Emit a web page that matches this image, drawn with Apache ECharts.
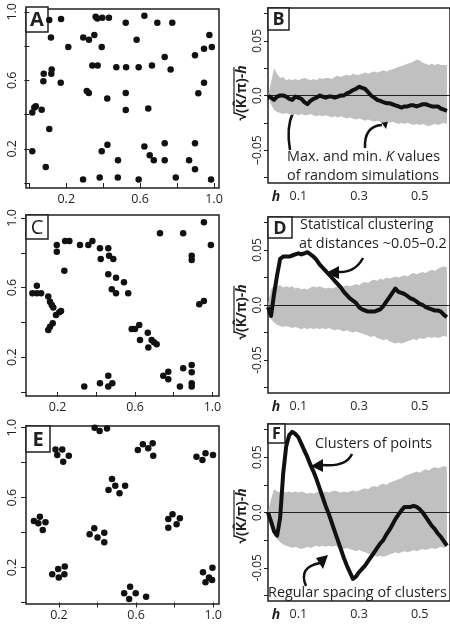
<!DOCTYPE html>
<html>
<head>
<meta charset="utf-8">
<script src="https://cdn.jsdelivr.net/npm/echarts@6/dist/echarts.min.js"></script>
</head>
<body style="margin:0;background:#fff">
<div id="container" style="width:450px;height:625px"></div>
<script>
// point patterns (x, y) in the unit square
var pointsA = [[0.108,0.952],[0.172,0.958],[0.117,0.850],[0.211,0.794],[0.292,0.850],[0.323,0.836],[0.352,0.865],[0.359,0.971],[0.368,0.961],[0.395,0.965],[0.431,0.965],[0.392,0.794],[0.522,0.936],[0.581,0.836],[0.623,0.977],[0.693,0.936],[0.774,0.936],[0.975,0.865],[0.988,0.794],[0.946,0.784],[0.897,0.746],[0.733,0.736],[0.765,0.663],[0.664,0.686],[0.592,0.676],[0.524,0.676],[0.471,0.676],[0.370,0.686],[0.341,0.686],[0.121,0.663],[0.119,0.638],[0.078,0.638],[0.076,0.595],[0.170,0.586],[0.311,0.538],[0.322,0.526],[0.422,0.493],[0.522,0.526],[0.522,0.426],[0.644,0.435],[0.915,0.524],[0.946,0.586],[0.016,0.412],[0.027,0.441],[0.035,0.449],[0.067,0.428],[0.108,0.316],[0.016,0.185],[0.089,0.094],[0.291,0.021],[0.381,0.033],[0.479,0.033],[0.592,0.021],[0.793,0.033],[0.984,0.021],[0.392,0.185],[0.423,0.224],[0.480,0.133],[0.623,0.214],[0.652,0.162],[0.674,0.133],[0.733,0.233],[0.733,0.133],[0.865,0.133],[0.897,0.233],[0.897,0.081]];

var pointsC = [[0.070,0.567],[0.093,0.567],[0.115,0.567],[0.093,0.611],[0.152,0.548],[0.161,0.519],[0.170,0.500],[0.178,0.485],[0.192,0.443],[0.209,0.458],[0.218,0.466],[0.152,0.356],[0.161,0.375],[0.175,0.395],[0.196,0.845],[0.196,0.806],[0.239,0.868],[0.261,0.868],[0.235,0.697],[0.316,0.845],[0.359,0.845],[0.380,0.868],[0.419,0.826],[0.462,0.826],[0.423,0.764],[0.466,0.783],[0.488,0.764],[0.462,0.676],[0.502,0.657],[0.543,0.630],[0.480,0.590],[0.502,0.567],[0.565,0.567],[0.583,0.362],[0.600,0.362],[0.622,0.385],[0.626,0.299],[0.666,0.341],[0.669,0.255],[0.686,0.299],[0.698,0.286],[0.712,0.274],[0.729,0.912],[0.849,0.912],[0.956,0.975],[0.992,0.845],[0.893,0.783],[0.893,0.759],[0.932,0.504],[0.956,0.523],[0.746,0.094],[0.772,0.117],[0.772,0.073],[0.849,0.136],[0.893,0.155],[0.893,0.113],[0.893,0.050],[0.893,0.031],[0.832,0.031],[0.338,0.031],[0.419,0.050],[0.462,0.094],[0.462,0.031],[0.483,0.050]];

var pointsE = [[0.385,1.000],[0.411,0.981],[0.449,0.995],
  [0.182,0.876],[0.217,0.876],[0.191,0.844],[0.251,0.840],[0.222,0.806],
  [0.609,0.872],[0.635,0.905],[0.663,0.882],[0.686,0.911],[0.689,0.840],
  [0.913,0.834],[0.944,0.815],[0.960,0.854],[0.999,0.844],
  [0.475,0.707],[0.457,0.644],[0.492,0.668],[0.514,0.625],[0.543,0.668],
  [0.070,0.466],[0.101,0.491],[0.093,0.453],[0.130,0.459],[0.116,0.415],
  [0.359,0.390],[0.383,0.424],[0.400,0.371],[0.435,0.399],[0.435,0.344],
  [0.767,0.478],[0.789,0.505],[0.767,0.428],[0.810,0.447],[0.827,0.482],
  [0.165,0.161],[0.196,0.192],[0.199,0.142],[0.230,0.205],[0.228,0.161],
  [0.538,0.053],[0.569,0.090],[0.564,0.020],[0.598,0.053],[0.652,0.033],
  [0.947,0.173],[0.996,0.199],[0.978,0.142],[0.960,0.116],[0.994,0.129]];

// distance h and the L-function curves
var hValues = [0,0.01,0.02,0.03,0.04,0.05,0.06,0.07,0.08,0.09,0.10,0.11,0.12,0.13,0.14,0.15,0.16,0.17,0.18,0.19,0.20,0.21,0.22,0.23,0.24,0.25,0.26,0.27,0.28,0.29,0.30,0.31,0.32,0.33,0.34,0.35,0.36,0.37,0.38,0.39,0.40,0.41,0.42,0.43,0.44,0.45,0.46,0.47,0.48,0.49,0.50,0.51,0.52,0.53,0.54,0.55,0.56,0.57,0.58,0.59];

var lineB = [0.000,-0.002,-0.004,-0.001,0.000,0.000,-0.001,-0.003,-0.004,-0.001,-0.002,-0.003,-0.006,-0.008,-0.005,-0.003,-0.002,0.000,-0.001,-0.002,-0.001,-0.001,-0.002,-0.001,0.000,0.000,0.002,0.003,0.005,0.006,0.008,0.007,0.006,0.003,0.000,-0.002,-0.004,-0.005,-0.006,-0.007,-0.007,-0.008,-0.009,-0.010,-0.011,-0.010,-0.010,-0.009,-0.009,-0.010,-0.009,-0.008,-0.008,-0.009,-0.010,-0.010,-0.010,-0.012,-0.013,-0.014];
var bandBHigh = [0.000,0.012,0.025,0.020,0.016,0.017,0.014,0.015,0.014,0.015,0.014,0.015,0.016,0.015,0.014,0.015,0.014,0.016,0.015,0.016,0.016,0.015,0.017,0.018,0.017,0.018,0.019,0.018,0.020,0.019,0.019,0.020,0.021,0.020,0.021,0.022,0.021,0.022,0.023,0.022,0.023,0.024,0.025,0.026,0.027,0.028,0.029,0.030,0.031,0.033,0.032,0.030,0.029,0.028,0.029,0.028,0.029,0.028,0.028,0.028];
var bandBLow = [0.000,-0.008,-0.013,-0.015,-0.016,-0.017,-0.016,-0.017,-0.018,-0.017,-0.018,-0.017,-0.018,-0.018,-0.017,-0.018,-0.019,-0.018,-0.019,-0.018,-0.019,-0.020,-0.019,-0.020,-0.019,-0.020,-0.021,-0.020,-0.021,-0.022,-0.021,-0.022,-0.023,-0.022,-0.023,-0.024,-0.023,-0.024,-0.025,-0.024,-0.025,-0.024,-0.025,-0.026,-0.025,-0.026,-0.025,-0.026,-0.027,-0.026,-0.027,-0.026,-0.027,-0.028,-0.027,-0.026,-0.027,-0.026,-0.025,-0.026];

var lineD = [-0.002,-0.010,0.010,0.027,0.042,0.044,0.044,0.044,0.045,0.046,0.047,0.046,0.047,0.048,0.046,0.044,0.041,0.037,0.034,0.031,0.028,0.025,0.022,0.019,0.016,0.012,0.009,0.006,0.004,0.002,-0.002,-0.004,-0.005,-0.006,-0.006,-0.006,-0.005,-0.004,-0.001,0.003,0.007,0.011,0.015,0.012,0.011,0.010,0.008,0.006,0.005,0.003,0.001,0.000,-0.002,-0.003,-0.004,-0.005,-0.005,-0.006,-0.009,-0.011];
var bandDHigh = [0.000,0.014,0.018,0.017,0.018,0.016,0.017,0.016,0.017,0.015,0.016,0.014,0.015,0.014,0.016,0.017,0.016,0.017,0.016,0.015,0.016,0.015,0.016,0.017,0.016,0.017,0.018,0.017,0.018,0.019,0.018,0.020,0.021,0.020,0.022,0.023,0.022,0.024,0.023,0.025,0.024,0.025,0.026,0.025,0.026,0.027,0.026,0.028,0.029,0.028,0.029,0.030,0.029,0.031,0.032,0.031,0.033,0.034,0.035,0.034];
var bandDLow = [0.000,-0.013,-0.016,-0.018,-0.019,-0.020,-0.019,-0.020,-0.021,-0.020,-0.021,-0.022,-0.021,-0.022,-0.021,-0.022,-0.021,-0.022,-0.021,-0.022,-0.021,-0.022,-0.023,-0.022,-0.023,-0.024,-0.023,-0.024,-0.025,-0.024,-0.025,-0.026,-0.027,-0.028,-0.029,-0.028,-0.030,-0.031,-0.032,-0.031,-0.033,-0.034,-0.035,-0.034,-0.035,-0.034,-0.033,-0.032,-0.031,-0.032,-0.030,-0.031,-0.030,-0.029,-0.030,-0.029,-0.030,-0.029,-0.028,-0.029];

var lineF = [0.000,-0.008,-0.017,-0.021,-0.005,0.035,0.060,0.070,0.073,0.071,0.068,0.062,0.056,0.050,0.043,0.037,0.030,0.022,0.014,0.006,-0.001,-0.009,-0.017,-0.025,-0.033,-0.041,-0.048,-0.054,-0.060,-0.058,-0.054,-0.051,-0.048,-0.044,-0.040,-0.036,-0.032,-0.028,-0.025,-0.020,-0.016,-0.011,-0.006,-0.002,0.002,0.005,0.005,0.005,0.006,0.005,0.003,0.000,-0.004,-0.008,-0.012,-0.015,-0.019,-0.022,-0.026,-0.030];
var bandFHigh = [0.000,0.012,0.021,0.019,0.018,0.019,0.018,0.019,0.018,0.019,0.018,0.019,0.018,0.017,0.018,0.017,0.018,0.019,0.018,0.019,0.018,0.019,0.020,0.019,0.018,0.019,0.018,0.019,0.020,0.019,0.020,0.021,0.022,0.021,0.023,0.024,0.023,0.025,0.026,0.025,0.027,0.028,0.029,0.030,0.031,0.033,0.034,0.035,0.036,0.037,0.036,0.038,0.039,0.038,0.040,0.041,0.040,0.041,0.042,0.041];
var bandFLow = [0.000,-0.012,-0.020,-0.024,-0.027,-0.029,-0.030,-0.031,-0.032,-0.031,-0.032,-0.033,-0.032,-0.031,-0.032,-0.031,-0.030,-0.031,-0.030,-0.031,-0.030,-0.031,-0.030,-0.031,-0.032,-0.033,-0.032,-0.033,-0.034,-0.035,-0.034,-0.035,-0.036,-0.037,-0.038,-0.039,-0.040,-0.039,-0.040,-0.039,-0.038,-0.037,-0.036,-0.037,-0.036,-0.035,-0.036,-0.035,-0.034,-0.035,-0.034,-0.033,-0.034,-0.033,-0.032,-0.033,-0.032,-0.031,-0.032,-0.031];

// ticks and labels
var unitTicks = [0, 0.2, 0.4, 0.6, 0.8, 1.0];
var unitLabels = [0.2, 0.6, 1.0];
var hTicks = [0, 0.2, 0.4];
var hLabels = [0.1, 0.3, 0.5];
var lTicks = [-0.075, -0.05, -0.025, 0, 0.025, 0.05, 0.075];
var lLabels = [-0.05, 0, 0.05];

var ink = '#231f20';
var font = 'Open Sans';

var dom = document.getElementById('container');
var myChart = echarts.init(dom, null, {renderer: 'canvas'});

var grids = [
    {left: 26, top: 7, width: 193, height: 181},
    {left: 268, top: 8, width: 184.5, height: 175},
    {left: 26, top: 215, width: 193, height: 181},
    {left: 268, top: 217, width: 184.5, height: 176},
    {left: 26, top: 426, width: 193, height: 178},
    {left: 268, top: 424, width: 184.5, height: 177}
];
grids.forEach(function (g) {
    g.show = true;
    g.borderColor = ink;
    g.borderWidth = 1.5;
    g.backgroundColor = 'transparent';
});

// axis ranges of the three point panels [xmin, xmax, ymin, ymax]
var unitRanges = [
    [-0.018, 1.027, -0.029, 1.017],
    [0.037, 1.034, -0.023, 1.017],
    [0.029, 1.030, -0.009, 1.010]
];

function inRange(list, lo, hi) {
    return list.filter(function (v) { return v >= lo - 1e-9 && v <= hi + 1e-9; });
}

function unitAxis(idx, lo, hi, isY) {
    return {
        gridIndex: idx, type: 'value', min: lo, max: hi,
        axisLine: {show: false}, splitLine: {show: false},
        axisTick: {length: 5, lineStyle: {color: ink, width: 1}, customValues: inRange(unitTicks, lo, hi)},
        axisLabel: {
            customValues: inRange(unitLabels, lo, hi),
            formatter: function (v) { return v.toFixed(1); },
            margin: isY ? 7 : 5, rotate: isY ? 90 : 0,
            fontSize: 12.5, fontFamily: font, color: ink
        }
    };
}

function hAxis(idx) {
    return {
        gridIndex: idx, type: 'value', min: 0, max: 0.6,
        axisLine: {show: false}, splitLine: {show: false},
        axisTick: {length: 5, lineStyle: {color: ink, width: 1}, customValues: hTicks},
        axisLabel: {
            customValues: hLabels,
            formatter: function (v) { return v.toFixed(1); },
            margin: 7, fontSize: 12.5, fontFamily: font, color: ink
        }
    };
}

function lAxis(idx, dash) {
    return {
        gridIndex: idx, type: 'value', min: -0.08, max: 0.08,
        axisLine: {show: false}, splitLine: {show: false},
        axisTick: {length: 4, lineStyle: {color: ink, width: 1}, customValues: lTicks},
        axisLabel: {
            customValues: lLabels,
            formatter: function (v) {
                if (Math.abs(v) < 1e-9) return '0.0';
                return (v < 0 ? dash : '') + Math.abs(v).toFixed(2);
            },
            margin: 4, rotate: 90, fontSize: 12, fontFamily: font, color: ink
        }
    };
}

var xAxes = [], yAxes = [];
[0, 2, 4].forEach(function (gi, k) {
    var r = unitRanges[k];
    xAxes[gi] = unitAxis(gi, r[0], r[1], false);
    yAxes[gi] = unitAxis(gi, r[2], r[3], true);
});
[1, 3, 5].forEach(function (gi, k) {
    xAxes[gi] = hAxis(gi);
    yAxes[gi] = lAxis(gi, k === 0 ? '\u2013' : '-');
});

function pairs(vals) {
    return hValues.map(function (h, i) { return [h, vals[i]]; });
}

// envelope: each half filled toward zero, the two halves meet on the zero line
function curveSeries(gi, line, low, high) {
    var band = {color: '#c0c0c0', opacity: 1, origin: 0};
    return [
        {
            type: 'line', xAxisIndex: gi, yAxisIndex: gi,
            data: pairs(high), symbol: 'none', silent: true,
            lineStyle: {width: 0, opacity: 0}, areaStyle: band
        },
        {
            type: 'line', xAxisIndex: gi, yAxisIndex: gi,
            data: pairs(low), symbol: 'none', silent: true,
            lineStyle: {width: 0, opacity: 0}, areaStyle: band,
            markLine: {
                symbol: 'none', silent: true, label: {show: false},
                lineStyle: {color: ink, width: 1, type: 'solid'},
                data: [{yAxis: 0}]
            }
        },
        {
            type: 'line', xAxisIndex: gi, yAxisIndex: gi, z: 5,
            data: pairs(line), symbol: 'none', silent: true,
            lineStyle: {color: '#111', width: 4, join: 'round'}
        }
    ];
}

function dotSeries(gi, pts) {
    return {
        type: 'scatter', xAxisIndex: gi, yAxisIndex: gi, data: pts,
        symbolSize: 6.5, itemStyle: {color: '#111', opacity: 1}, silent: true, clip: false
    };
}

var series = [dotSeries(0, pointsA), dotSeries(2, pointsC), dotSeries(4, pointsE)]
    .concat(curveSeries(1, lineB, bandBLow, bandBHigh))
    .concat(curveSeries(3, lineD, bandDLow, bandDHigh))
    .concat(curveSeries(5, lineF, bandFLow, bandFHigh));

// panel letters in boxes
function panelTag(letter, x, y, w, h, size, bold) {
    return {
        type: 'group', z: 50,
        children: [
            {type: 'rect', shape: {x: x, y: y, width: w, height: h},
             style: {fill: '#fff', stroke: ink, lineWidth: 1.5}},
            {type: 'text', x: x + w / 2, y: y + h / 2 + 1,
             style: {text: letter, fill: ink, fontSize: size, fontWeight: bold ? 'bold' : 'normal',
                     fontFamily: font, align: 'center', verticalAlign: 'middle'}}
        ]
    };
}

function yName(x, y) {
    return {
        type: 'group', z: 50,
        children: [
            {
                type: 'text', x: x, y: y, rotation: Math.PI / 2,
                style: {
                    text: '{a|\u221A(K\u0302/\u03C0)-}{b|h}',
                    align: 'center', verticalAlign: 'middle',
                    rich: {
                        a: {fontSize: 14, fontWeight: 'bold', fontFamily: font, fill: ink},
                        b: {fontSize: 14, fontWeight: 'bold', fontStyle: 'italic', fontFamily: font, fill: ink}
                    }
                }
            },
            // overbar of the square root
            {type: 'line', shape: {x1: x - 8, y1: y - 26, x2: x - 8, y2: y + 21},
             style: {stroke: ink, lineWidth: 1.2}}
        ]
    };
}

function label(x, y, text) {
    return {
        type: 'text', x: x, y: y, z: 50,
        style: {
            text: text, fill: ink, fontSize: 14.4, fontFamily: font,
            align: 'left', verticalAlign: 'middle',
            rich: {i: {fontSize: 14.4, fontStyle: 'italic', fontFamily: font, fill: ink}}
        }
    };
}

function hMark(x, y) {
    return {
        type: 'text', x: x, y: y, z: 50,
        style: {text: 'h', fill: ink, fontSize: 14, fontWeight: 'bold', fontStyle: 'italic',
                fontFamily: font, align: 'center', verticalAlign: 'middle'}
    };
}

function arrow(x1, y1, cx, cy, x2, y2, head) {
    return {
        type: 'group', z: 60,
        children: [
            {type: 'bezierCurve', shape: {x1: x1, y1: y1, cpx1: cx, cpy1: cy, x2: x2, y2: y2},
             style: {stroke: '#111', lineWidth: 2.5, fill: null}},
            {type: 'polygon', shape: {points: head}, style: {fill: '#111'}}
        ]
    };
}

var graphics = [
    panelTag('A', 26, 7, 22, 25, 20, true),
    panelTag('B', 268, 8, 21, 22, 18, true),
    panelTag('C', 26, 215, 22, 24, 20, false),
    panelTag('D', 268, 217, 24, 21, 18, true),
    panelTag('E', 26, 426, 24, 26, 20, true),
    panelTag('F', 268, 424, 17, 19, 16, true),
    yName(242, 93), yName(242, 312), yName(242, 516),
    hMark(276, 197), hMark(276, 407), hMark(276, 615),
    label(287, 157, 'Max. and min. {i|K} values'),
    label(287, 176, 'of random simulations'),
    label(300, 225, 'Statistical clustering'),
    label(299, 244, 'at distances ~0.05\u20130.2'),
    label(315, 444, 'Clusters of points'),
    label(268, 593, 'Regular spacing of clusters'),
    arrow(290, 150, 282, 105, 318, 90, [[320, 78], [314, 91], [325, 91]]),
    arrow(365, 148, 364, 126, 382, 125, [[389, 118], [379, 119], [386, 129]]),
    arrow(363, 258, 355, 273, 338, 272, [[326, 273], [339, 266], [339, 279]]),
    arrow(352, 454, 346, 467, 323, 465, [[311, 466], [323, 459], [323, 472]]),
    arrow(306, 586, 298, 567, 320, 563, [[328, 555], [316, 558], [323, 569]])
];

var option = {
    animation: false,
    backgroundColor: '#fff',
    grid: grids,
    xAxis: xAxes,
    yAxis: yAxes,
    series: series,
    graphic: graphics
};

if (option && typeof option === 'object') {
    myChart.setOption(option);
}
</script>
</body>
</html>
